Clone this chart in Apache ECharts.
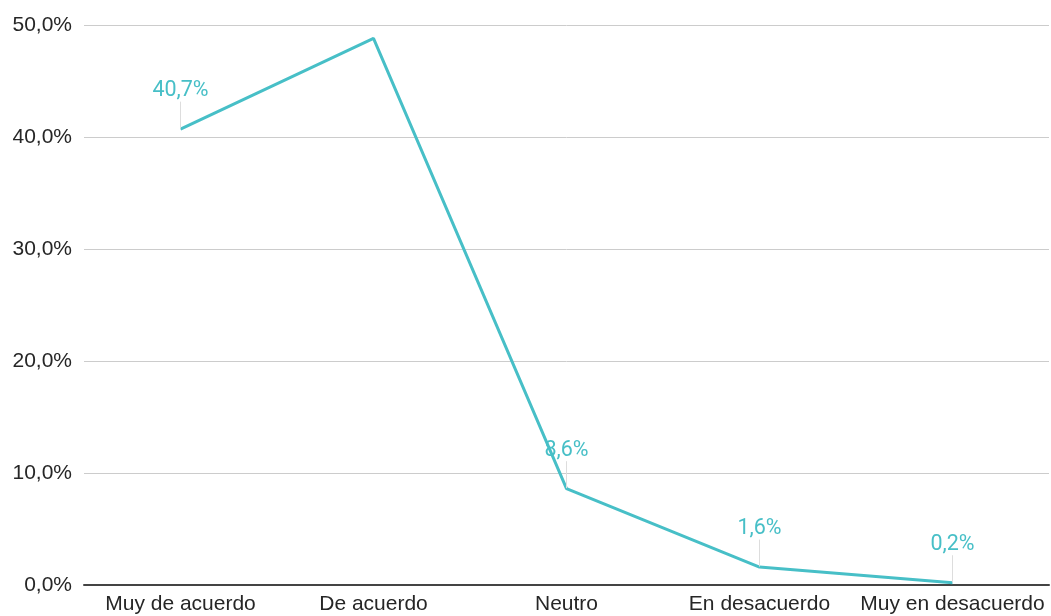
<!DOCTYPE html>
<html><head><meta charset="utf-8">
<script src="https://cdn.jsdelivr.net/npm/echarts@6/dist/echarts.min.js"></script>
<style>html,body{margin:0;padding:0;background:#fff}#c{width:1051px;height:616px}</style>
</head><body><div id="c"></div>
<script>
const categories = ['Muy de acuerdo', 'De acuerdo', 'Neutro', 'En desacuerdo', 'Muy en desacuerdo'];
const values = [40.7, 48.8, 8.6, 1.6, 0.2];
const showLabel = [true, false, true, true, true];
const yTicks = [0, 10, 20, 30, 40, 50];

const fmt = v => v.toFixed(1).replace('.', ',') + '%';
const FONT = '"Liberation Sans", Arial, sans-serif';
const chart = echarts.init(document.getElementById('c'));
chart.setOption({
  animation: false,
  grid: {left: 84, right: 2, top: 25, bottom: 31, containLabel: false},
  xAxis: {
    type: 'category', data: categories, boundaryGap: true,
    axisLine: {lineStyle: {color: '#444', width: 2}},
    axisTick: {show: false},
    axisLabel: {color: '#262626', fontSize: 21, margin: 9, fontFamily: FONT, interval: 0}
  },
  yAxis: {
    type: 'value', min: yTicks[0], max: yTicks[yTicks.length - 1], interval: 10,
    axisLine: {show: false}, axisTick: {show: false},
    splitLine: {lineStyle: {color: '#ccc', width: 1}},
    axisLabel: {color: '#262626', fontSize: 21, margin: 12, fontFamily: FONT, formatter: v => fmt(v)}
  },
  series: [{
    type: 'line', symbol: 'circle', symbolSize: 1, showSymbol: true,
    itemStyle: {color: 'rgba(69,190,198,0)', borderWidth: 0},
    lineStyle: {color: '#47BFC7', width: 3},
    data: values.map((v, i) => ({value: v, label: {show: showLabel[i]}})),
    label: {show: true, position: 'top', distance: 2, color: '#47BFC7', fontSize: 21.5, fontFamily: 'Roboto, sans-serif', formatter: p => fmt(p.value)},
    labelLayout: {dy: -25},
    labelLine: {show: true, lineStyle: {color: '#ddd', width: 1}}
  }]
});
</script></body></html>
